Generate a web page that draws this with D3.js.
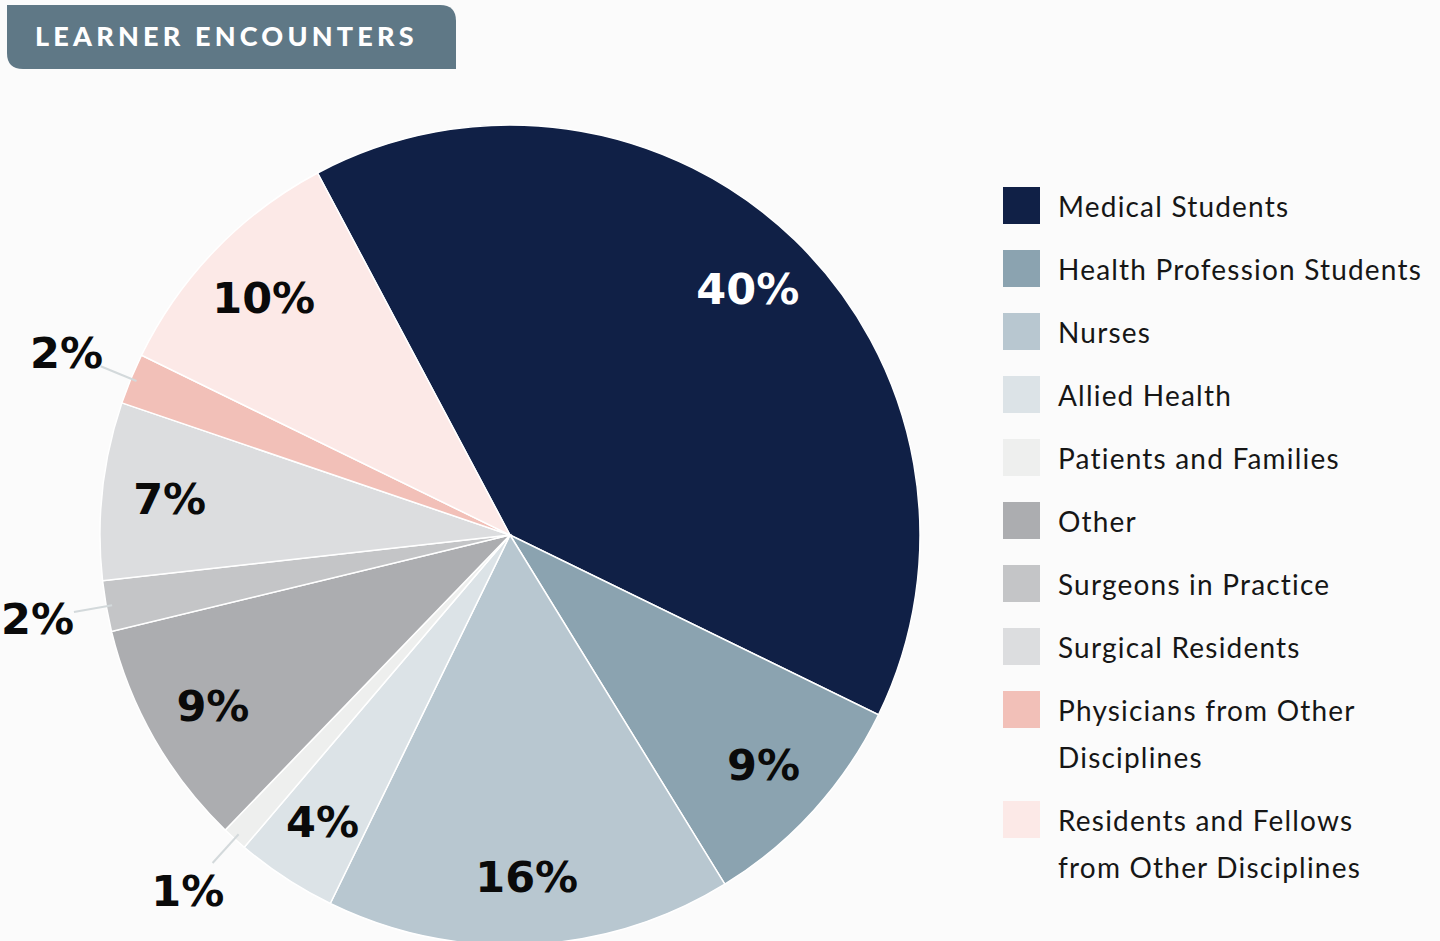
<!DOCTYPE html>
<html>
<head>
<meta charset="utf-8">
<script src="https://cdn.jsdelivr.net/npm/d3@7"></script>
<style>
  html, body { margin: 0; padding: 0; background: #fbfbfb; }
  svg { display: block; }
</style>
</head>
<body>
<script>
// chart data
const categories = [
    "Medical Students",
    "Health Profession Students",
    "Nurses",
    "Allied Health",
    "Patients and Families",
    "Other",
    "Surgeons in Practice",
    "Surgical Residents",
    "Physicians from Other Disciplines",
    "Residents and Fellows from Other Disciplines"
];
const values = [40, 9, 16, 4, 1, 9, 2, 7, 2, 10];
const colors = ["#102046", "#8ba3b0", "#b8c7d0", "#dce3e7", "#eeefee",
                "#acadb0", "#c4c5c7", "#dcdddf", "#f2c0b8", "#fce9e7"];
// legend lines (wrapped as in the original)
const legendLines = [
    ["Medical Students"],
    ["Health Profession Students"],
    ["Nurses"],
    ["Allied Health"],
    ["Patients and Families"],
    ["Other"],
    ["Surgeons in Practice"],
    ["Surgical Residents"],
    ["Physicians from Other", "Disciplines"],
    ["Residents and Fellows", "from Other Disciplines"]
];

const W = 1440, H = 941;
const cx = 510, cy = 535, R = 410;
const startAngle = -28 * Math.PI / 180;

const svg = d3.select("body")
    .append("svg")
    .attr("width", W)
    .attr("height", H);

// title banner (rounded top-right and bottom-left)
const bx = 7, by = 5, bw = 449, bh = 64, br = 16;
svg.append("path")
    .attr("d", `M${bx},${by} H${bx + bw - br} Q${bx + bw},${by} ${bx + bw},${by + br} V${by + bh} H${bx + br} Q${bx},${by + bh} ${bx},${by + bh - br} Z`)
    .attr("fill", "#5f7886");
svg.append("text")
    .attr("x", 35)
    .attr("y", 46)
    .attr("fill", "#ffffff")
    .style("font-family", "Lato, 'Open Sans', sans-serif")
    .style("font-weight", 900)
    .style("font-size", "27px")
    .style("letter-spacing", "4.2px")
    .text("LEARNER ENCOUNTERS");

// pie
const pie = d3.pie()
    .sort(null)
    .value(d => d)
    .startAngle(startAngle)
    .endAngle(startAngle + 2 * Math.PI);

const arcs = pie(values);
const arc = d3.arc().innerRadius(0).outerRadius(R);

const g = svg.append("g").attr("transform", `translate(${cx},${cy})`);

g.selectAll("path.slice")
    .data(arcs)
    .enter().append("path")
    .attr("class", "slice")
    .attr("d", arc)
    .attr("fill", (d, i) => colors[i])
    .attr("stroke", "#ffffff")
    .attr("stroke-width", 1.5);

const small = d => d.data < 3;
const midAngle = d => (d.startAngle + d.endAngle) / 2;
const polar = (a, r) => [Math.sin(a) * r, -Math.cos(a) * r];
const labelR = d => small(d) ? R * 1.17 : R * 0.835;

// leader lines for small slices
g.selectAll("line.leader")
    .data(arcs.filter(small))
    .enter().append("line")
    .attr("class", "leader")
    .attr("x1", d => polar(midAngle(d), R - 6)[0])
    .attr("y1", d => polar(midAngle(d), R - 6)[1])
    .attr("x2", d => polar(midAngle(d), R * 1.08)[0])
    .attr("y2", d => polar(midAngle(d), R * 1.08)[1])
    .attr("stroke", "#d3d9db")
    .attr("stroke-width", 2);

// percentage labels
g.selectAll("text.pct")
    .data(arcs)
    .enter().append("text")
    .attr("class", "pct")
    .attr("x", d => polar(midAngle(d), labelR(d))[0])
    .attr("y", d => polar(midAngle(d), labelR(d))[1])
    .attr("dy", "0.36em")
    .attr("text-anchor", "middle")
    .attr("fill", (d, i) => i === 0 ? "#ffffff" : "#0a0a0a")
    .style("font-family", "'DejaVu Sans', sans-serif")
    .style("font-weight", 700)
    .style("font-size", "43px")
    .text(d => d.data + "%");

// legend
const legend = svg.append("g").attr("transform", "translate(1003,0)");
const rowY = d3.scaleLinear().domain([0, 1]).range([187, 250]);
let extra = 0;
legendLines.forEach((lines, i) => {
    const y0 = rowY(i) + extra;
    legend.append("rect")
        .attr("x", 0)
        .attr("y", y0)
        .attr("width", 37)
        .attr("height", 37)
        .attr("fill", colors[i]);
    lines.forEach((t, j) => {
        legend.append("text")
            .attr("x", 55)
            .attr("y", y0 + 30 + j * 47)
            .attr("fill", "#161616")
            .style("font-family", "Lato, 'Noto Sans', sans-serif")
            .style("font-size", "28px")
            .style("letter-spacing", "1.2px")
            .text(t);
    });
    extra += (lines.length - 1) * 47;
});
</script>
</body>
</html>
